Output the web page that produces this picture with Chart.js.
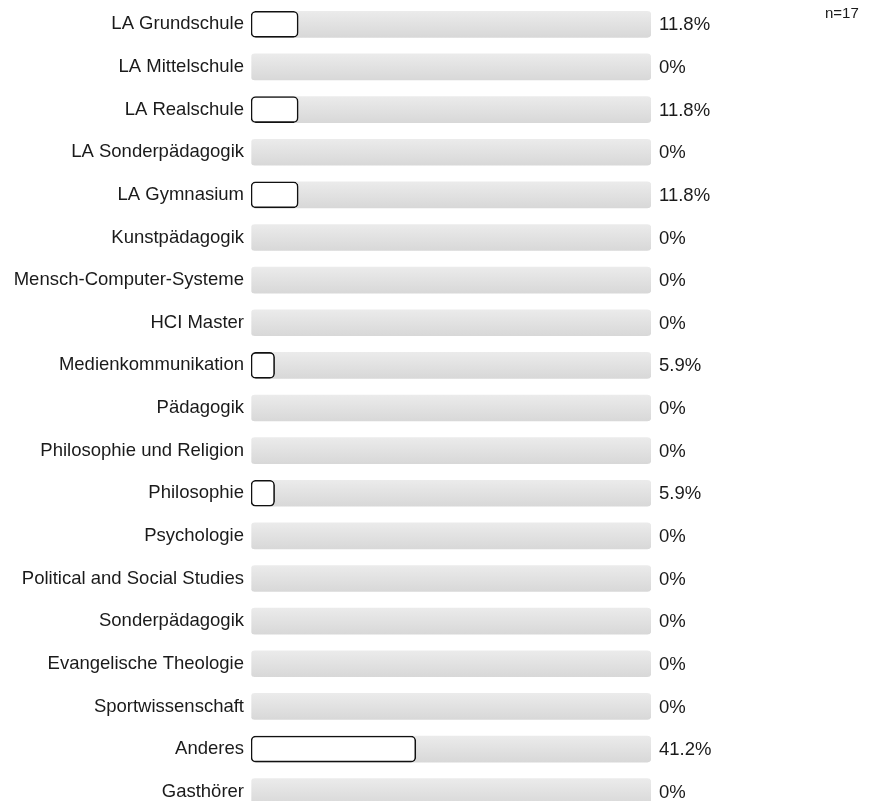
<!DOCTYPE html>
<html>
<head>
<meta charset="utf-8">
<script src="https://cdn.jsdelivr.net/npm/chart.js@4/dist/chart.umd.min.js"></script>
<style>
  html, body { margin: 0; padding: 0; background: #fff; overflow: hidden; }
  #wrap { position: relative; width: 877px; height: 813px; }
</style>
</head>
<body>
<div id="wrap"><canvas id="chart"></canvas></div>
<script>
const categories = [
    "LA Grundschule", "LA Mittelschule", "LA Realschule", "LA Sonderpädagogik",
    "LA Gymnasium", "Kunstpädagogik", "Mensch-Computer-Systeme", "HCI Master",
    "Medienkommunikation", "Pädagogik", "Philosophie und Religion", "Philosophie",
    "Psychologie", "Political and Social Studies", "Sonderpädagogik",
    "Evangelische Theologie", "Sportwissenschaft", "Anderes", "Gasthörer"
];
const percents = [11.8, 0, 11.8, 0, 11.8, 0, 0, 0, 5.9, 0, 0, 5.9, 0, 0, 0, 0, 0, 41.2, 0];
const sampleNote = "n=17";
const scaleMax = 100;

const FONT = '"Liberation Sans", Arial, sans-serif';

// value labels to the right of the track, plus the n= note
const valueLabels = {
    id: 'valueLabels',
    afterDatasetsDraw(chart) {
        const { ctx, chartArea, scales } = chart;
        ctx.save();
        ctx.font = '18.5px ' + FONT;
        ctx.fillStyle = '#1a1a1a';
        ctx.textBaseline = 'middle';
        ctx.textAlign = 'left';
        percents.forEach((v, i) => {
            ctx.fillText(v + '%', chartArea.right + 8, scales.y.getPixelForValue(i) + 1);
        });
        ctx.font = '15px ' + FONT;
        ctx.fillText(sampleNote, 825, 14);
        ctx.restore();
    }
};

// light grey track with a soft vertical gradient
function trackFill(c) {
    const yScale = c.chart.scales.y;
    if (!yScale) return '#e2e2e2';
    const y = yScale.getPixelForValue(c.dataIndex);
    if (!isFinite(y)) return '#e2e2e2';
    const g = c.chart.ctx.createLinearGradient(0, y - 13, 0, y + 13);
    g.addColorStop(0, '#ebebeb');
    g.addColorStop(1, '#d8d8d8');
    return g;
}

const ctx = document.getElementById('chart').getContext('2d');
new Chart(ctx, {
    type: 'bar',
    data: {
        labels: categories,
        datasets: [
            {
                data: percents,
                backgroundColor: '#ffffff',
                borderColor: '#111',
                borderWidth: c => (c.raw > 0 ? 1.6 : 0),
                borderSkipped: false,
                borderRadius: 5,
                barThickness: 26,
                grouped: false,
                order: 0
            },
            {
                data: categories.map(() => scaleMax),
                backgroundColor: trackFill,
                borderWidth: 0,
                borderRadius: 4,
                borderSkipped: false,
                barThickness: 26,
                grouped: false,
                order: 1
            }
        ]
    },
    options: {
        indexAxis: 'y',
        responsive: true,
        maintainAspectRatio: false,
        animation: false,
        layout: { padding: { top: 3, right: 226, bottom: 0, left: 0 } },
        plugins: {
            legend: { display: false },
            tooltip: { enabled: false }
        },
        scales: {
            x: {
                min: 0,
                max: scaleMax,
                display: false
            },
            y: {
                border: { display: false },
                grid: { display: false, drawTicks: false },
                ticks: {
                    color: '#1a1a1a',
                    padding: 7,
                    font: { family: FONT, size: 18.5 }
                },
                afterFit: scale => {
                    scale.width = 251;
                    scale.paddingTop = 0;
                    scale.paddingBottom = 0;
                }
            }
        }
    },
    plugins: [valueLabels]
});
</script>
</body>
</html>
